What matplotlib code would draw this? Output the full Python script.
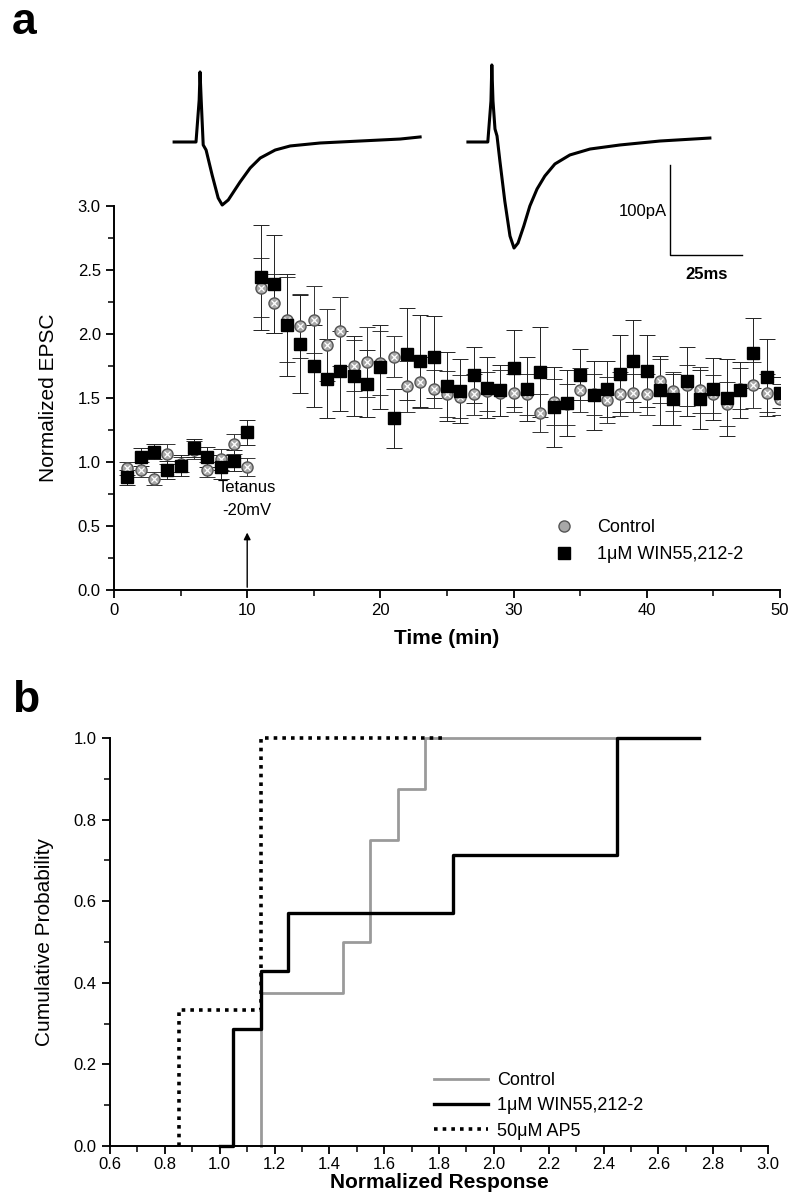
import numpy as np
import matplotlib
matplotlib.use('Agg')
import matplotlib.pyplot as plt
from matplotlib.lines import Line2D

plt.rcParams['font.family'] = ['Liberation Sans', 'DejaVu Sans']

# ---------------- panel a data ----------------
time_min = list(range(1, 51))
ctrl_mean = [0.95, 0.94, 0.87, 1.06, 0.98, 1.09, 0.94, 1.02, 1.14, 0.96,
             2.36, 2.24, 2.11, 2.06, 2.11, 1.91, 2.02, 1.75, 1.78, 1.77,
             1.82, 1.59, 1.62, 1.57, 1.53, 1.51, 1.53, 1.55, 1.54, 1.54,
             1.53, 1.38, 1.47, 1.45, 1.56, 1.53, 1.48, 1.53, 1.54, 1.53,
             1.63, 1.55, 1.60, 1.56, 1.53, 1.45, 1.57, 1.60, 1.54, 1.49]
ctrl_err = [0.05, 0.06, 0.05, 0.08, 0.06, 0.07, 0.06, 0.08, 0.08, 0.07,
            0.23, 0.23, 0.33, 0.25, 0.26, 0.28, 0.27, 0.20, 0.27, 0.25,
            0.16, 0.20, 0.20, 0.15, 0.18, 0.17, 0.16, 0.15, 0.18, 0.15,
            0.16, 0.15, 0.18, 0.16, 0.17, 0.16, 0.18, 0.17, 0.15, 0.16,
            0.17, 0.15, 0.16, 0.18, 0.15, 0.17, 0.16, 0.18, 0.15, 0.12]
win_mean = [0.88, 1.04, 1.08, 0.94, 0.97, 1.11, 1.04, 0.96, 1.01, 1.23,
            2.44, 2.39, 2.07, 1.92, 1.75, 1.65, 1.71, 1.67, 1.61, 1.74,
            1.34, 1.84, 1.79, 1.82, 1.59, 1.55, 1.68, 1.58, 1.56, 1.73,
            1.57, 1.70, 1.43, 1.46, 1.68, 1.52, 1.57, 1.69, 1.79, 1.71,
            1.56, 1.49, 1.63, 1.49, 1.57, 1.50, 1.56, 1.85, 1.66, 1.54]
win_err = [0.06, 0.07, 0.06, 0.07, 0.08, 0.07, 0.08, 0.09, 0.08, 0.10,
           0.41, 0.38, 0.40, 0.38, 0.32, 0.31, 0.31, 0.31, 0.26, 0.33,
           0.23, 0.36, 0.36, 0.32, 0.27, 0.25, 0.22, 0.24, 0.20, 0.30,
           0.25, 0.35, 0.31, 0.26, 0.20, 0.27, 0.22, 0.30, 0.32, 0.28,
           0.27, 0.20, 0.27, 0.23, 0.24, 0.30, 0.22, 0.27, 0.30, 0.12]

# example EPSC traces (ms, pA)
trace1_ms = [0, 7.6, 8.7, 9.0, 9.4, 10.1, 11.1, 13.2, 15.3, 16.7, 18.8, 22.9,
             26.4, 29.9, 35.1, 40.3, 50.7, 64.6, 78.5, 85.4]
trace1_pa = [0, 0, 46.7, 77.8, 46.7, -3.3, -8.9, -36.7, -62.2, -70, -64.4, -44.4,
             -28.9, -17.8, -8.9, -4.4, -1.1, 1.1, 3.3, 5.6]
trace2_ms = [0, 6.9, 8.0, 8.3, 8.7, 9.4, 10.1, 11.1, 12.8, 14.6, 16.0, 17.4,
             19.4, 21.5, 24.0, 26.7, 30.2, 35.4, 42.4, 52.8, 66.7, 84.0]
trace2_pa = [0, 0, 45.6, 85.6, 45.6, 14.4, 6.7, -21.1, -65.6, -104.4, -117.8, -112.2,
             -93.3, -71.1, -52.2, -37.8, -24.4, -14.4, -7.8, -3.3, 1.1, 4.4]
trace1_start = 4.9
trace2_start = 106.9

# ---------------- panel b data ----------------
ctrl_x = [1.15, 1.15, 1.45, 1.55, 1.65, 1.75, 2.45]
ctrl_p = [0.0, 0.375, 0.5, 0.75, 0.875, 1.0, 1.0]
win_x = [1.0, 1.05, 1.15, 1.25, 1.85, 2.45, 2.75]
win_p = [0.0, 0.286, 0.429, 0.571, 0.714, 1.0, 1.0]
ap5_x = [0.85, 0.85, 1.15, 1.83]
ap5_p = [0.0, 0.333, 1.0, 1.0]

W, H = 800, 1200
fig = plt.figure(figsize=(8, 12), dpi=100)

def rect(l, r, t, b):
    return [l / W, 1 - b / H, (r - l) / W, (b - t) / H]

def style_axis(ax):
    for s in ['top', 'right']:
        ax.spines[s].set_visible(False)
    for s in ['left', 'bottom']:
        ax.spines[s].set_linewidth(1.4)
    ax.tick_params(which='major', direction='out', length=6, width=1.3, labelsize=12)
    ax.tick_params(which='minor', direction='out', length=4, width=1.1)

# ---- panel a ----
ax1 = fig.add_axes(rect(114, 780, 205.7, 590))
ax1.errorbar(time_min, ctrl_mean, yerr=ctrl_err, fmt='none', ecolor='#333333',
             elinewidth=0.7, capsize=6, capthick=0.7, zorder=2)
ax1.errorbar(time_min, win_mean, yerr=win_err, fmt='none', ecolor='#222222',
             elinewidth=0.7, capsize=6, capthick=0.7, zorder=2)
ax1.plot(time_min, ctrl_mean, 'o', ms=8, mfc='#a8a8a8', mec='#555555', mew=1.0,
         ls='none', zorder=3)
ax1.plot(time_min, ctrl_mean, 'x', ms=4, mec='white', mew=0.9, ls='none', zorder=4)
ax1.plot(time_min, win_mean, 's', ms=8.5, mfc='black', mec='black', ls='none', zorder=5)
ax1.set_xlim(0, 50)
ax1.set_ylim(0, 3.0)
ax1.set_xticks(np.arange(0, 51, 10))
ax1.set_xticks(np.arange(0, 51, 5), minor=True)
ax1.set_yticks(np.arange(0, 3.01, 0.5))
ax1.set_yticks(np.arange(0, 3.01, 0.25), minor=True)
ax1.set_yticklabels(['%.1f' % v for v in np.arange(0, 3.01, 0.5)])
style_axis(ax1)
ax1.set_xlabel('Time (min)', fontsize=15, fontweight='bold', labelpad=8)
ax1.set_ylabel('Normalized EPSC', fontsize=15, family=['Liberation Sans Narrow', 'Liberation Sans'],
               labelpad=14)
ax1.annotate('', xy=(10, 0.47), xytext=(10, 0.0),
             arrowprops=dict(arrowstyle='-|>', lw=1.0, color='black', mutation_scale=10))
ax1.text(10, 0.80, 'Tetanus', ha='center', va='center', fontsize=12)
ax1.text(10, 0.62, '-20mV', ha='center', va='center', fontsize=12)

h_ctrl = Line2D([], [], marker='o', ms=8, mfc='#a8a8a8', mec='#555555', ls='none')
h_win = Line2D([], [], marker='s', ms=8.5, mfc='black', mec='black', ls='none')
ax1.legend([h_ctrl, h_win], ['Control', '1\u03bcM WIN55,212-2'], loc='upper left',
           bbox_to_anchor=(530 / W, 1 - 503 / H), bbox_transform=fig.transFigure,
           frameon=False, fontsize=13, handletextpad=0.8, labelspacing=0.55)

# ---- inset traces ----
axt = fig.add_axes(rect(160, 760, 50, 270))
axt.plot([trace1_start + t for t in trace1_ms], trace1_pa, color='black', lw=2.2)
axt.plot([trace2_start + t for t in trace2_ms], trace2_pa, color='black', lw=2.2)
axt.set_xlim(0, 208.3)
axt.set_ylim(-142.2, 102.2)
axt.axis('off')
sb_x, sb_y = 177.1, -125.6
axt.plot([sb_x, sb_x, sb_x + 25], [sb_y + 100, sb_y, sb_y], color='black', lw=1.0)
axt.text(sb_x - 1, sb_y + 48, '100pA', ha='right', va='center', fontsize=12)
axt.text(sb_x + 12.5, sb_y - 22, '25ms', ha='center', va='center', fontsize=12,
         fontweight='bold')

# ---- panel b ----
ax2 = fig.add_axes(rect(110, 768, 738, 1146))
l_ctrl, = ax2.plot(ctrl_x, ctrl_p, drawstyle='steps-post', color='#9a9a9a', lw=2.0,
                   clip_on=False, zorder=2)
l_win, = ax2.plot(win_x, win_p, drawstyle='steps-post', color='black', lw=2.4,
                  clip_on=False, zorder=3)
l_ap5, = ax2.plot(ap5_x, ap5_p, drawstyle='steps-post', color='black', lw=2.6,
                  ls=(0, (1, 1.4)), clip_on=False, zorder=4)
ax2.set_xlim(0.6, 3.0)
ax2.set_ylim(0, 1.0)
ax2.set_xticks(np.arange(0.6, 3.01, 0.2))
ax2.set_xticks(np.arange(0.6, 3.01, 0.1), minor=True)
ax2.set_xticklabels(['%.1f' % v for v in np.arange(0.6, 3.01, 0.2)])
ax2.set_yticks(np.arange(0, 1.01, 0.2))
ax2.set_yticks(np.arange(0, 1.01, 0.1), minor=True)
ax2.set_yticklabels(['%.1f' % v for v in np.arange(0, 1.01, 0.2)])
style_axis(ax2)
ax2.tick_params(axis='x', which='major', pad=2)
ax2.set_xlabel('Normalized Response', fontsize=15, fontweight='bold', labelpad=1)
ax2.set_ylabel('Cumulative Probability', fontsize=15,
               family=['Liberation Sans Narrow', 'Liberation Sans'], labelpad=14)
ax2.legend([l_ctrl, l_win, l_ap5], ['Control', '1\u03bcM WIN55,212-2', '50\u03bcM AP5'],
           loc='upper left', bbox_to_anchor=(418 / W, 1 - 1056 / H),
           bbox_transform=fig.transFigure, frameon=False, fontsize=13,
           handlelength=3.0, handletextpad=0.5, labelspacing=0.45)

fig.text(12 / W, 1 - 22 / H, 'a', fontsize=32, fontweight='bold', va='center')
fig.text(12 / W, 1 - 700 / H, 'b', fontsize=32, fontweight='bold', va='center')

fig.savefig('out.png', dpi=100)
